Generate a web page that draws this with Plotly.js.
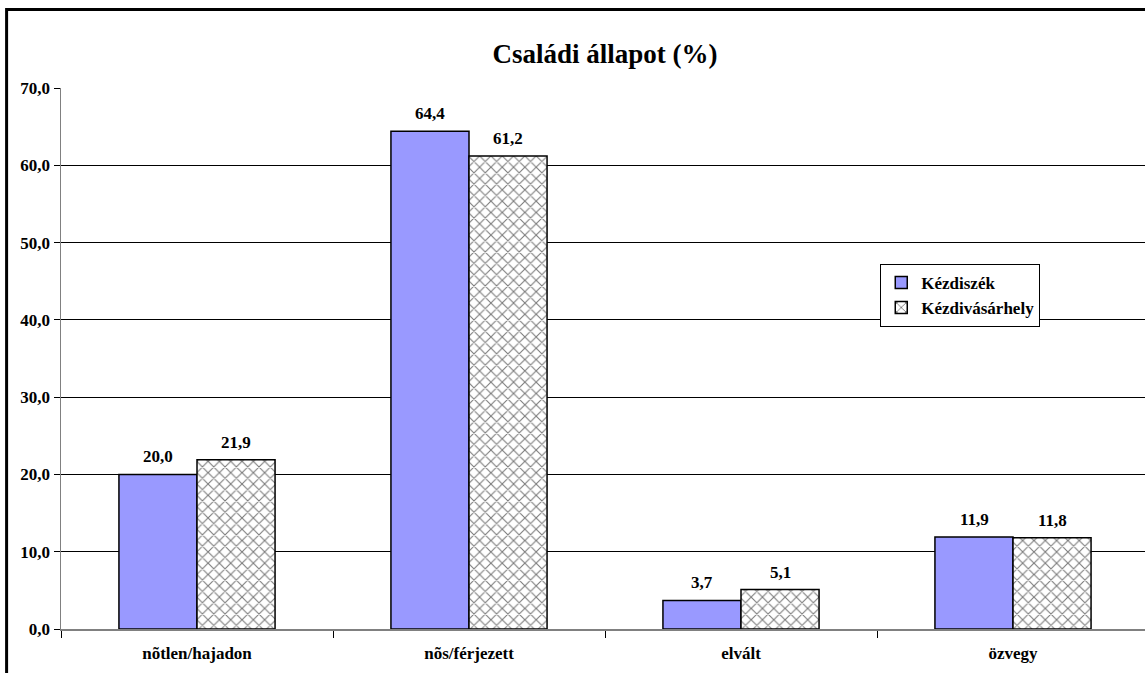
<!DOCTYPE html>
<html>
<head>
<meta charset="utf-8">
<script src="https://cdn.plot.ly/plotly-3.0.1.min.js"></script>
<style>html,body{margin:0;padding:0;overflow:hidden;background:#fff;}</style>
</head>
<body>
<div id="chart" style="width:1149px;height:673px;"></div>
<script>
const categories = ["nõtlen/hajadon", "nõs/férjezett", "elvált", "özvegy"];
const kezdiszek = [20.0, 64.4, 3.7, 11.9];
const kezdivasarhely = [21.9, 61.2, 5.1, 11.8];
const seriesNames = ["Kézdiszék", "Kézdivásárhely"];

const font = "Liberation Serif";
const fmt = v => v.toFixed(1).replace(".", ",");

const traces = [
  {
    type: "bar", name: "<b>" + seriesNames[0] + "</b>", x: categories, y: kezdiszek,
    marker: {color: "#9999FF", line: {color: "#000", width: 1.5}}
  },
  {
    type: "bar", name: "<b>" + seriesNames[1] + "</b>", x: categories, y: kezdivasarhely,
    marker: {color: "#FFFFFF", line: {color: "#000", width: 1.5},
      pattern: {shape: "x", fgcolor: "#7a7a7a", bgcolor: "#FFFFFF", size: 8, solidity: 0.25}}
  }
];

const annotations = [];
[kezdiszek, kezdivasarhely].forEach((series, si) => {
  series.forEach((v, i) => {
    annotations.push({
      x: categories[i], y: v, xref: "x", yref: "y",
      text: "<b>" + fmt(v) + "</b>", showarrow: false,
      xanchor: "center", yanchor: "bottom",
      xshift: si === 0 ? -39 : 39, yshift: 6,
      font: {family: font, size: 17, color: "#000"}
    });
  });
});

const layout = {
  width: 1149, height: 673,
  margin: {l: 61, r: 0, t: 88, b: 44},
  paper_bgcolor: "#fff", plot_bgcolor: "#fff",
  separators: ",.",
  font: {family: font, color: "#000", size: 17},
  title: {text: "<b>Családi állapot (%)</b>", font: {family: font, size: 27, color: "#000"},
    x: 0.5, xref: "paper", y: 0.921, yref: "container", xanchor: "center", yanchor: "middle"},
  bargap: 0.426, bargroupgap: 0,
  showlegend: true,
  legend: {x: 0.753, y: 0.675, xanchor: "left", yanchor: "top",
    bordercolor: "#000", borderwidth: 1, bgcolor: "#fff",
    font: {family: font, size: 17, color: "#000"},
    itemwidth: 30, tracegroupgap: 0},
  annotations: annotations,
  xaxis: {
    showgrid: false, showline: true, linecolor: "#808080", linewidth: 1.5,
    tickson: "boundaries", ticks: "outside", ticklen: 7, tickcolor: "#000",
    tickprefix: "<b>", ticksuffix: "</b>", ticklabelstandoff: 8,
    tickfont: {family: font, size: 17, color: "#000"},
    fixedrange: true
  },
  yaxis: {
    range: [0, 70], dtick: 10, tickformat: ".1f",
    tickprefix: "<b>", ticksuffix: "</b>",
    showgrid: true, gridcolor: "#000", gridwidth: 1,
    showline: true, linecolor: "#808080", linewidth: 1.5,
    ticks: "outside", ticklen: 6, tickcolor: "#000",
    tickfont: {family: font, size: 17, color: "#000"},
    zeroline: false, fixedrange: true
  },
  shapes: [{type: "rect", xref: "paper", yref: "paper",
    x0: -0.05, x1: 1.05, y0: -0.2, y1: 1.145,
    line: {color: "#000", width: 3}, fillcolor: "rgba(0,0,0,0)", layer: "above"}]
};

Plotly.newPlot("chart", traces, layout, {displayModeBar: false, staticPlot: true});
</script>
</body>
</html>
